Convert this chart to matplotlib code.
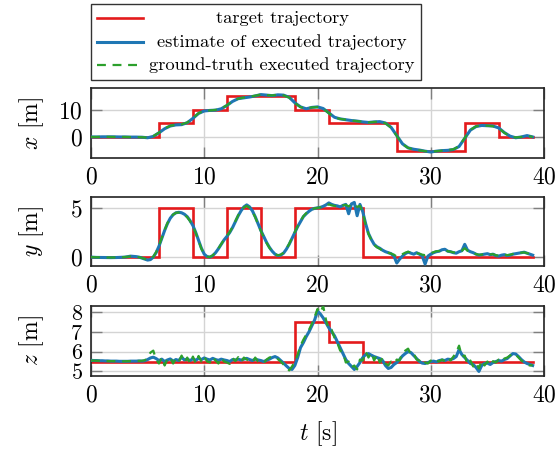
import numpy as np
import matplotlib
matplotlib.use("Agg")
import matplotlib.pyplot as plt
from matplotlib.lines import Line2D
from matplotlib.patches import Rectangle

plt.rcParams['font.family'] = ['cmr10', 'DejaVu Serif']
plt.rcParams['mathtext.fontset'] = 'cm'
plt.rcParams['axes.formatter.use_mathtext'] = True

# ---------------- data ----------------
legend_labels = ["target trajectory", "estimate of executed trajectory",
                 "ground-truth executed trajectory"]

# target trajectory (step corners)
target_t = [0, 6, 6, 9, 9, 12, 12, 15, 15, 18, 18, 21, 21, 24, 24, 27, 27, 33, 33, 36, 36, 39]
target_x = [0, 0, 5, 5, 10, 10, 15, 15, 15, 15, 10, 10, 5, 5, 5, 5, -5, -5, 5, 5, 0, 0]
target_y = [0, 0, 5, 5, 0, 0, 5, 5, 0, 0, 5, 5, 5, 5, 0, 0, 0, 0, 0, 0, 0, 0]
target_z = [5.5, 5.5, 5.5, 5.5, 5.5, 5.5, 5.5, 5.5, 5.5, 5.5, 7.5, 7.5, 6.5, 6.5, 5.5, 5.5,
            5.5, 5.5, 5.5, 5.5, 5.5, 5.5]

# x samples every 0.5 s
time_x = [i * 0.5 for i in range(79)]
est_x = [0.0, 0.0, 0.05, 0.05, 0.05, 0.0, 0.0, -0.05, -0.05, -0.1,
         -0.3, 0.2, 1.5, 3.0, 4.0, 4.4, 4.5, 5.2, 6.8, 8.6,
         9.5, 9.7, 9.8, 10.3, 11.5, 13.0, 14.0, 14.3, 14.6, 15.0,
         15.5, 15.3, 15.1, 15.4, 15.3, 14.5, 12.5, 11.0, 10.3, 10.8,
         11.0, 10.4, 8.8, 7.2, 6.6, 6.3, 6.0, 5.8, 5.5, 5.3,
         5.5, 5.6, 5.1, 3.5, 0.5, -2.5, -4.0, -4.5, -4.8, -5.2,
         -5.5, -5.2, -5.0, -4.9, -4.6, -3.5, -0.5, 2.5, 3.8, 4.2,
         4.1, 4.0, 3.3, 1.6, 0.3, -0.3, 0.0, 0.5, 0.0]
gt_x = [0.0, 0.0, 0.05, 0.05, 0.0, 0.0, 0.0, -0.05, -0.05, -0.1,
        -0.25, 0.3, 1.6, 3.1, 4.1, 4.4, 4.6, 5.3, 6.9, 8.7,
        9.5, 9.7, 9.9, 10.4, 11.6, 13.1, 14.0, 14.4, 14.7, 15.1,
        15.5, 15.3, 15.2, 15.4, 15.2, 14.4, 12.4, 10.9, 10.4, 10.8,
        10.9, 10.3, 8.7, 7.1, 6.6, 6.3, 6.0, 5.8, 5.5, 5.3,
        5.5, 5.6, 5.0, 3.4, 0.4, -2.6, -4.0, -4.6, -4.9, -5.2,
        -5.4, -5.2, -5.0, -4.8, -4.5, -3.4, -0.4, 2.6, 3.9, 4.2,
        4.1, 3.9, 3.2, 1.5, 0.3, -0.2, 0.0, 0.4, 0.0]

# y and z samples every 0.25 s
time_yz = [i * 0.25 for i in range(157)]
est_y = [0.00, -0.02, -0.03, -0.03, -0.04, -0.04, -0.05, -0.05,
         -0.05, -0.04, -0.03, -0.02, 0.00, 0.05, 0.10, 0.08,
         0.05, 0.00, -0.10, -0.20, -0.30, -0.25, 0.00, 0.45,
         1.10, 1.90, 2.70, 3.40, 3.95, 4.30, 4.50, 4.55,
         4.50, 4.35, 4.10, 3.70, 3.20, 2.50, 1.70, 0.90,
         0.30, 0.05, 0.00, 0.15, 0.45, 0.85, 1.30, 1.75,
         2.10, 2.50, 3.00, 3.60, 4.20, 4.70, 5.10, 5.30,
         5.10, 4.70, 4.10, 3.40, 2.70, 2.10, 1.50, 1.00,
         0.60, 0.30, 0.15, 0.20, 0.40, 0.80, 1.30, 1.90,
         2.50, 3.10, 3.60, 4.10, 4.40, 4.65, 4.85, 4.95,
         5.00, 5.05, 5.15, 5.30, 5.50, 5.35, 5.25, 5.20,
         5.10, 5.25, 5.35, 4.40, 5.40, 5.55, 4.20, 5.35,
         4.60, 3.40, 2.40, 1.80, 1.30, 1.05, 0.90, 0.70,
         0.55, 0.45, 0.35, 0.10, -0.60, -0.20, 0.10, 0.35,
         0.50, 0.40, 0.30, 0.45, 0.30, 0.10, -0.70, 0.10,
         0.30, 0.45, 0.55, 0.60, 0.75, 0.80, 0.60, 0.55,
         0.45, 0.40, 0.55, 0.65, 1.30, 0.70, 0.55, 0.45,
         0.30, 0.20, 0.25, 0.30, 0.35, 0.25, 0.30, 0.15,
         0.10, 0.20, 0.25, 0.15, 0.20, 0.30, 0.35, 0.40,
         0.45, 0.50, 0.40, 0.30, 0.20]
gt_y = [0.00, -0.01, -0.02, -0.03, -0.03, -0.04, -0.04, -0.05,
        -0.05, -0.04, -0.03, -0.01, 0.01, 0.04, 0.08, 0.07,
        0.04, -0.01, -0.08, -0.18, -0.25, -0.22, 0.05, 0.50,
        1.15, 1.95, 2.75, 3.45, 4.00, 4.32, 4.50, 4.52,
        4.48, 4.30, 4.05, 3.65, 3.15, 2.45, 1.65, 0.85,
        0.28, 0.05, 0.02, 0.18, 0.48, 0.88, 1.32, 1.78,
        2.15, 2.55, 3.05, 3.65, 4.25, 4.72, 5.05, 5.20,
        5.00, 4.62, 4.05, 3.35, 2.65, 2.05, 1.45, 0.95,
        0.58, 0.30, 0.18, 0.25, 0.45, 0.85, 1.35, 1.95,
        2.55, 3.15, 3.65, 4.15, 4.45, 4.68, 4.85, 4.95,
        5.00, 5.05, 5.12, 5.22, 5.35, 5.25, 5.20, 5.15,
        5.10, 5.25, 5.30, 5.15, 5.35, 5.40, 5.10, 5.20,
        4.50, 3.30, 2.35, 1.75, 1.25, 1.00, 0.85, 0.65,
        0.55, 0.45, 0.35, 0.25, 0.05, 0.15, 0.30, 0.45,
        0.55, 0.45, 0.35, 0.40, 0.35, 0.25, 0.20, 0.30,
        0.40, 0.50, 0.60, 0.62, 0.75, 0.72, 0.60, 0.55,
        0.48, 0.45, 0.55, 0.65, 0.90, 0.65, 0.50, 0.42,
        0.30, 0.25, 0.25, 0.32, 0.35, 0.28, 0.30, 0.20,
        0.15, 0.22, 0.25, 0.20, 0.25, 0.32, 0.35, 0.42,
        0.45, 0.48, 0.40, 0.32, 0.25]
est_z = [5.56, 5.55, 5.55, 5.54, 5.54, 5.53, 5.53, 5.52,
         5.52, 5.52, 5.51, 5.51, 5.51, 5.51, 5.52, 5.52,
         5.52, 5.53, 5.52, 5.54, 5.60, 5.68, 5.72, 5.65,
         5.55, 5.62, 5.50, 5.58, 5.63, 5.52, 5.60, 5.55,
         5.72, 5.58, 5.62, 5.55, 5.64, 5.56, 5.66, 5.60,
         5.68, 5.62, 5.58, 5.66, 5.60, 5.56, 5.62, 5.58,
         5.55, 5.50, 5.60, 5.58, 5.62, 5.57, 5.62, 5.66,
         5.60, 5.55, 5.62, 5.58, 5.55, 5.50, 5.56, 5.62,
         5.70, 5.75, 5.68, 5.55, 5.42, 5.28, 5.15, 5.10,
         5.30, 5.70, 6.20, 6.45, 6.75, 7.00, 7.30, 7.60,
         8.05, 7.90, 7.70, 7.45, 7.20, 7.00, 6.80, 6.50,
         6.20, 5.90, 5.60, 5.40, 5.25, 5.10, 5.25, 5.45,
         5.70, 5.85, 5.90, 5.82, 5.75, 5.70, 5.65, 5.55,
         5.30, 5.15, 5.20, 5.35, 5.45, 5.60, 5.78, 5.90,
         6.00, 5.95, 5.80, 5.65, 5.50, 5.42, 5.40, 5.45,
         5.50, 5.52, 5.48, 5.55, 5.58, 5.55, 5.62, 5.60,
         5.65, 5.75, 6.10, 5.85, 5.70, 5.55, 5.40, 5.35,
         5.20, 5.00, 5.30, 5.40, 5.42, 5.35, 5.45, 5.50,
         5.55, 5.52, 5.60, 5.65, 5.78, 5.90, 5.88, 5.75,
         5.60, 5.48, 5.40, 5.35, 5.30]
gt_z = [5.55, 5.55, 5.54, 5.54, 5.53, 5.53, 5.52, 5.52,
        5.52, 5.51, 5.51, 5.51, 5.51, 5.52, 5.52, 5.52,
        5.53, 5.53, 5.54, 5.56, 5.70, 5.95, 6.05, 5.60,
        5.40, 5.70, 5.30, 5.62, 5.72, 5.40, 5.65, 5.48,
        5.80, 5.45, 5.70, 5.40, 5.75, 5.40, 5.78, 5.50,
        5.75, 5.50, 5.45, 5.72, 5.55, 5.40, 5.70, 5.50,
        5.45, 5.38, 5.68, 5.52, 5.72, 5.48, 5.70, 5.60,
        5.52, 5.45, 5.70, 5.50, 5.48, 5.42, 5.60, 5.70,
        5.75, 5.70, 5.62, 5.50, 5.35, 5.20, 5.05, 5.25,
        5.50, 5.85, 6.30, 6.60, 6.85, 7.10, 7.40, 7.75,
        8.15, 7.95, 8.30, 7.60, 7.10, 7.10, 6.70, 6.45,
        6.05, 5.95, 5.45, 5.50, 5.20, 5.30, 5.10, 5.60,
        5.55, 6.00, 5.70, 5.95, 5.55, 5.85, 5.45, 5.70,
        5.40, 5.30, 5.50, 5.40, 5.60, 5.55, 5.95, 6.05,
        6.15, 5.85, 5.90, 5.60, 5.55, 5.35, 5.45, 5.40,
        5.55, 5.45, 5.55, 5.50, 5.60, 5.50, 5.68, 5.55,
        5.75, 5.95, 6.30, 5.75, 5.80, 5.35, 5.55, 5.25,
        5.45, 5.15, 5.55, 5.30, 5.50, 5.30, 5.52, 5.45,
        5.60, 5.50, 5.65, 5.70, 5.80, 5.92, 5.85, 5.70,
        5.55, 5.45, 5.35, 5.30, 5.32]

x_ticks = [0, 10, 20, 30, 40]
ticks_x_panel = [0, 10]
ticks_y_panel = [0, 5]
ticks_z_panel = [5, 6, 7, 8]
ylabels = ["$x$ [m]", "$y$ [m]", "$z$ [m]"]

# ---------------- styling ----------------
W, H = 560, 450
RED = '#e41a1c'
BLUE = '#1f77b4'
GREEN = '#2ca02c'
GRID = '#d4d4d4'
TICKC = '#7f7f7f'
FS_TICK = 17

fig = plt.figure(figsize=(W / 100, H / 100), dpi=100)

def px_axes(l, t, r, b):
    return fig.add_axes([l / W, 1 - b / H, (r - l) / W, (b - t) / H])

ax1 = px_axes(91, 88, 544, 158)
ax2 = px_axes(91, 197, 544, 266)
ax3 = px_axes(91, 306, 544, 376)

panels = [
    (ax1, target_x, time_x, est_x, gt_x, (-7.7, 17.9), ticks_x_panel, FS_TICK),
    (ax2, target_y, time_yz, est_y, gt_y, (-0.9, 6.1), ticks_y_panel, FS_TICK),
    (ax3, target_z, time_yz, est_z, gt_z, (4.77, 8.3), ticks_z_panel, 16),
]

for (ax, tgt, tt, est, gt, ylim, yt, yfs), lab in zip(panels, ylabels):
    ax.plot(target_t, tgt, color=RED, lw=1.9, zorder=2, solid_joinstyle='miter')
    ax.plot(tt, est, color=BLUE, lw=2.2, zorder=3)
    ax.plot(tt, gt, color=GREEN, lw=1.6, ls=(0, (4, 3)), zorder=4)
    ax.set_xlim(0, 40)
    ax.set_ylim(*ylim)
    ax.set_xticks(x_ticks)
    ax.set_yticks(yt)
    ax.grid(True, color=GRID, lw=1.0, zorder=0)
    ax.set_axisbelow(True)
    ax.tick_params(direction='in', length=8, width=1.0, color=TICKC,
                   top=True, right=True, pad=6)
    ax.tick_params(axis='x', labelsize=FS_TICK)
    ax.tick_params(axis='y', labelsize=yfs)
    for sp in ax.spines.values():
        sp.set_color('#222222')
        sp.set_linewidth(1.2)
    ax.set_ylabel(lab, fontsize=FS_TICK)
    ax.yaxis.set_label_coords(-0.10, 0.5)

ax3.set_xlabel("$t$ [s]", fontsize=FS_TICK)
ax3.xaxis.set_label_coords(0.5, -0.615)

# ---------------- legend (drawn in figure pixels) ----------------
def fx(p):
    return p / W

def fy(p):
    return 1 - p / H

fig.patches.append(Rectangle((fx(91), fy(80)), fx(421) - fx(91), fy(4) - fy(80),
                             transform=fig.transFigure, facecolor='white',
                             edgecolor='#333333', lw=1.0, zorder=10))
rows = [18, 42, 65]
styles = [dict(color=RED, lw=1.9), dict(color=BLUE, lw=2.2),
          dict(color=GREEN, lw=1.6, ls=(0, (4, 3)))]
for ry, st, txt in zip(rows, styles, legend_labels):
    fig.lines.append(Line2D([fx(97), fx(143)], [fy(ry), fy(ry)],
                            transform=fig.transFigure, zorder=11, **st))
    fig.text(fx(282), fy(ry), txt, ha='center', va='center',
             fontsize=13.3, zorder=11)

fig.savefig("out.png", dpi=100)
